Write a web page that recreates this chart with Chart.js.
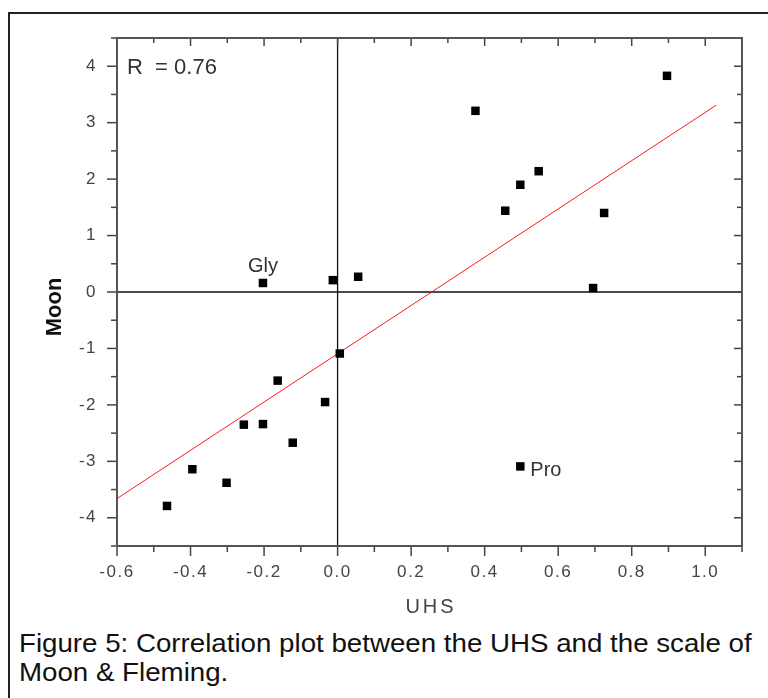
<!DOCTYPE html>
<html>
<head>
<meta charset="utf-8">
<script src="https://cdn.jsdelivr.net/npm/chart.js@4.4.1/dist/chart.umd.min.js"></script>
<style>
  html, body { margin: 0; padding: 0; background: #fff; }
  body { width: 768px; height: 698px; overflow: hidden; position: relative; font-family: "Liberation Sans", Arial, sans-serif; }
  #frame { position: absolute; left: 8px; top: 12px; width: 800px; height: 800px; border-top: 2px solid #222; border-left: 2px solid #222; }
  #plot { position: absolute; left: 0; top: 0; }
  #caption { position: absolute; left: 19px; top: 629px; font-size: 26px; line-height: 29px; color: #111; white-space: nowrap; transform: scaleX(1.065); transform-origin: left top; }
</style>
</head>
<body>
<div id="frame"></div>
<canvas id="plot" width="768" height="625"></canvas>
<div id="caption">Figure 5: Correlation plot between the UHS and the scale of<br>Moon &amp; Fleming.</div>
<script>
  // ---- data ----
  const uhs = [-0.203, -0.013, 0.056, 0.375, 0.896, 0.547, 0.497, 0.456, 0.725, 0.695,
               0.006, -0.163, -0.034, -0.255, -0.203, -0.122, -0.395, -0.302, -0.464, 0.497];
  const moon = [0.16, 0.21, 0.27, 3.21, 3.83, 2.14, 1.90, 1.44, 1.40, 0.07,
                -1.09, -1.57, -1.95, -2.35, -2.34, -2.67, -3.14, -3.38, -3.79, -3.09];
  const names = ["Gly", "", "", "", "", "", "", "", "", "",
                 "", "", "", "", "", "", "", "", "", "Pro"];

  const fitUhs = [-0.6, 1.03];
  const fitMoon = [-3.66, 3.31];

  const xTicks = [-0.6, -0.4, -0.2, 0.0, 0.2, 0.4, 0.6, 0.8, 1.0];
  const xMinorTicks = [-0.5, -0.3, -0.1, 0.1, 0.3, 0.5, 0.7, 0.9, 1.1];
  const yTicks = [-4, -3, -2, -1, 0, 1, 2, 3, 4];
  const yMinorTicks = [-4.5, -3.5, -2.5, -1.5, -0.5, 0.5, 1.5, 2.5, 3.5, 4.5];

  const FONT = '"Liberation Sans", Arial, sans-serif';

  function seg(ctx, x1, y1, x2, y2) {
    ctx.beginPath();
    ctx.moveTo(x1, y1);
    ctx.lineTo(x2, y2);
    ctx.stroke();
  }

  // axes box, ticks, zero lines and the text annotations
  const framePlugin = {
    id: "framePlugin",
    beforeDraw(chart) {
      chart.ctx.letterSpacing = "1.5px";
    },
    beforeDatasetsDraw(chart) {
      const { ctx, chartArea: a, scales: { x, y } } = chart;
      ctx.save();
      ctx.strokeStyle = "#111";
      ctx.lineWidth = 1.3;
      const x0 = x.getPixelForValue(0);
      const y0 = y.getPixelForValue(0);
      seg(ctx, x0, a.top, x0, a.bottom);
      seg(ctx, a.left, y0, a.right, y0);

      ctx.strokeStyle = "#444";
      ctx.lineWidth = 1.5;
      xTicks.forEach((v) => {
        const p = x.getPixelForValue(v);
        seg(ctx, p, a.bottom, p, a.bottom + 10);
        seg(ctx, p, a.top, p, a.top + 8);
      });
      xMinorTicks.forEach((v) => {
        const p = x.getPixelForValue(v);
        seg(ctx, p, a.bottom, p, a.bottom + 6);
        seg(ctx, p, a.top, p, a.top + 5);
      });
      yTicks.forEach((v) => {
        const p = y.getPixelForValue(v);
        seg(ctx, a.left - 10, p, a.left, p);
        seg(ctx, a.right - 8, p, a.right, p);
      });
      yMinorTicks.forEach((v) => {
        const p = y.getPixelForValue(v);
        seg(ctx, a.left - 6, p, a.left, p);
        seg(ctx, a.right - 5, p, a.right, p);
      });

      ctx.strokeStyle = "#555";
      ctx.lineWidth = 2;
      ctx.strokeRect(a.left, a.top, a.right - a.left, a.bottom - a.top);
      ctx.restore();
    },
    afterDatasetsDraw(chart) {
      const { ctx, chartArea: a, scales: { x, y } } = chart;
      ctx.save();
      ctx.letterSpacing = "0px";
      ctx.fillStyle = "#333";
      ctx.textBaseline = "alphabetic";

      ctx.font = "22px " + FONT;
      ctx.textAlign = "left";
      ctx.fillText("R  = 0.76", a.left + 10, a.top + 36);

      ctx.font = "20px " + FONT;
      names.forEach((n, i) => {
        if (!n) return;
        const px = x.getPixelForValue(uhs[i]);
        const py = y.getPixelForValue(moon[i]);
        if (n === "Gly") {
          ctx.textAlign = "center";
          ctx.fillText(n, px, py - 11);
        } else {
          ctx.textAlign = "left";
          ctx.fillText(n, px + 10, py + 10);
        }
      });

      // axis titles
      ctx.fillStyle = "#444";
      ctx.font = "20px " + FONT;
      ctx.letterSpacing = "3px";
      ctx.textAlign = "center";
      ctx.textBaseline = "middle";
      ctx.fillText("UHS", (a.left + a.right) / 2 + 1.5, 607);

      ctx.letterSpacing = "0px";
      ctx.fillStyle = "#111";
      ctx.font = "bold 22px " + FONT;
      ctx.translate(55, 307);
      ctx.rotate(-Math.PI / 2);
      ctx.fillText("Moon", 0, 0);
      ctx.restore();
    },
  };

  const ctx = document.getElementById("plot").getContext("2d");
  new Chart(ctx, {
    type: "scatter",
    data: {
      datasets: [
        {
          label: "Amino acids",
          data: uhs.map((v, i) => ({ x: v, y: moon[i] })),
          pointStyle: "rect",
          pointRadius: 6,
          pointHoverRadius: 6,
          pointBorderWidth: 0,
          backgroundColor: "#000",
          borderColor: "#000",
          order: 0,
        },
        {
          type: "line",
          label: "Linear fit",
          data: fitUhs.map((v, i) => ({ x: v, y: fitMoon[i] })),
          borderColor: "rgba(255, 0, 0, 0.9)",
          borderWidth: 1,
          pointRadius: 0,
          fill: false,
          order: 1,
        },
      ],
    },
    options: {
      responsive: false,
      animation: false,
      events: [],
      layout: { padding: { top: 38, right: 26, left: 0, bottom: 0 } },
      plugins: { legend: { display: false }, tooltip: { enabled: false } },
      scales: {
        x: {
          type: "linear",
          min: -0.6,
          max: 1.1,
          afterBuildTicks: (s) => { s.ticks = xTicks.map((v) => ({ value: v })); },
          afterFit: (s) => { s.height = 79; },
          grid: { display: false, drawTicks: false },
          border: { display: false },
          ticks: {
            padding: 16,
            color: "#444",
            font: { family: FONT, size: 17 },
            maxRotation: 0,
            autoSkip: false,
            callback: (v) => Number(v).toFixed(1),
          },
        },
        y: {
          type: "linear",
          min: -4.5,
          max: 4.5,
          afterBuildTicks: (s) => { s.ticks = yTicks.map((v) => ({ value: v })); },
          afterFit: (s) => { s.width = 117; },
          grid: { display: false, drawTicks: false },
          border: { display: false },
          ticks: {
            padding: 20,
            color: "#444",
            font: { family: FONT, size: 17 },
            autoSkip: false,
            callback: (v) => String(v),
          },
        },
      },
    },
    plugins: [framePlugin],
  });
</script>
</body>
</html>
